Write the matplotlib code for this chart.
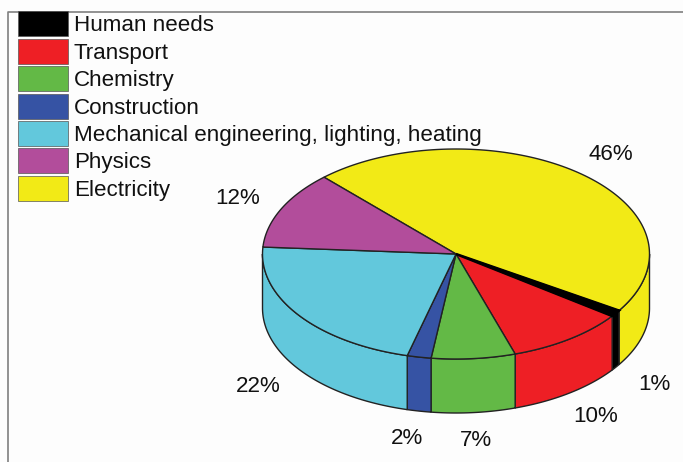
import numpy as np
import matplotlib
matplotlib.use('Agg')
import matplotlib.pyplot as plt
from matplotlib.patches import Polygon, Rectangle

plt.rcParams['font.family'] = ['Liberation Sans', 'DejaVu Sans']

# clockwise from the top-left edge of the electricity slice
categories = ['Electricity', 'Human needs', 'Transport', 'Chemistry', 'Construction',
              'Mechanical engineering, lighting, heating', 'Physics']
shares = [46, 1, 10, 7, 2, 22, 12]
colors = ['#f2ea16', '#000000', '#ee1f25', '#63b946', '#3653a4', '#62c8dc', '#b24d9b']
legend_order = ['Human needs', 'Transport', 'Chemistry', 'Construction',
                'Mechanical engineering, lighting, heating', 'Physics', 'Electricity']
share_labels = ['46%', '1%', '10%', '7%', '2%', '22%', '12%']
label_xy = [(611, 155), (654, 385), (596, 417), (476, 441), (407, 438), (258, 387), (238, 199)]

# pie geometry in pixels
cx, cy = 456, 254
rx, ry = 193.5, 105
depth = 54
start = 133.0


def rim(a0, a1, n=120):
    t = np.radians(np.linspace(a0, a1, n))
    return cx + rx * np.cos(t), cy - ry * np.sin(t)


fig = plt.figure(figsize=(6.83, 4.62), dpi=100, facecolor='#fdfdfd')
ax = fig.add_axes([0, 0, 1, 1])
ax.set_xlim(0, 683)
ax.set_ylim(462, 0)
ax.axis('off')

# frame
ax.plot([8, 8, 683], [462, 12, 12], color='#808080', lw=1.2, zorder=1)

edges = start - np.cumsum([0] + shares) * 3.6

# side wall, only the front half shows
for i, c in enumerate(colors):
    a0, a1 = min(edges[i], 0), max(edges[i + 1], -180)
    if a0 <= a1:
        continue
    x, y = rim(a0, a1)
    pts = np.r_[np.c_[x, y], np.c_[x[::-1], y[::-1] + depth]]
    ax.add_patch(Polygon(pts, closed=True, fc=c, ec='#222222', lw=1.0, zorder=2))

# top face, black slice last so its thin wedge stays visible
for i in np.argsort([c == '#000000' for c in colors]):
    x, y = rim(edges[i], edges[i + 1])
    pts = np.r_[[[cx, cy]], np.c_[x, y]]
    black = colors[i] == '#000000'
    ax.add_patch(Polygon(pts, closed=True, fc=colors[i], ec='#000000' if black else '#222222',
                         lw=1.8 if black else 1.0, zorder=3))

for t, (lx, ly) in zip(share_labels, label_xy):
    ax.text(lx, ly, t, fontsize=16.1, ha='center', va='center', color='#111111', zorder=4)

# legend
swatch_top = [11, 39, 66, 94, 121, 148, 176]
for name, top in zip(legend_order, swatch_top):
    c = colors[categories.index(name)]
    ax.add_patch(Rectangle((18, top), 50, 24.5, fc=c, ec='#555555', lw=0.5, zorder=4))
    ax.text(74, top + 14.5, name, fontsize=16.1, ha='left', va='center', color='#111111', zorder=4)

fig.savefig('out.png', dpi=100, facecolor=fig.get_facecolor())
